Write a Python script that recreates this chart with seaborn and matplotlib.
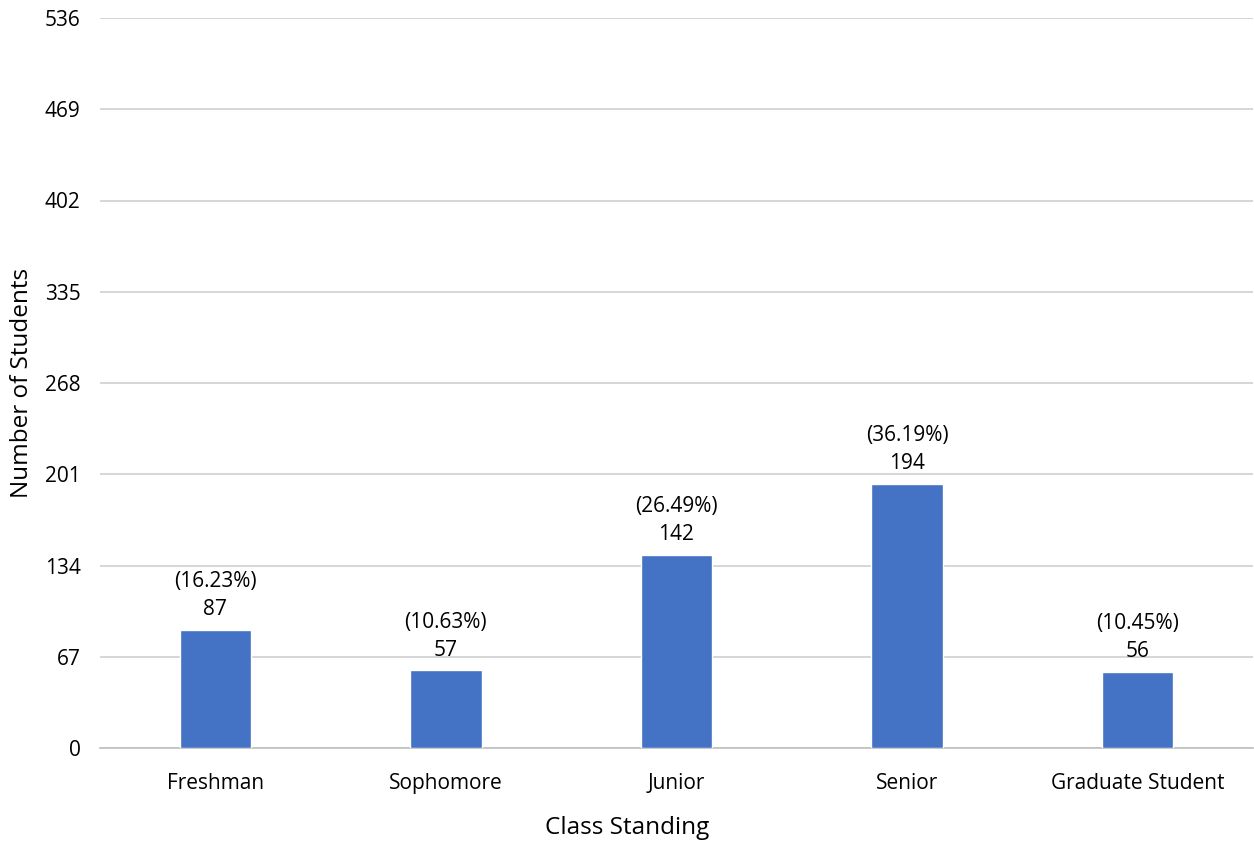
import matplotlib
matplotlib.use("Agg")
import matplotlib.pyplot as plt
import seaborn as sns
import pandas as pd

categories = ["Freshman", "Sophomore", "Junior", "Senior", "Graduate Student"]
counts = [87, 57, 142, 194, 56]
percents = ["(16.23%)", "(10.63%)", "(26.49%)", "(36.19%)", "(10.45%)"]
yticks = [0, 67, 134, 201, 268, 335, 402, 469, 536]

sns.set_theme(style="white")
plt.rcParams["font.family"] = ["Open Sans", "DejaVu Sans"]
plt.rcParams["text.color"] = "black"
plt.rcParams["axes.labelcolor"] = "black"

df = pd.DataFrame({"Class Standing": categories, "Number of Students": counts})

fig = plt.figure(figsize=(12.54, 8.42), dpi=100)
ax = fig.add_axes([100 / 1254, 1 - 748 / 842, 1153 / 1254, 730 / 842])

sns.barplot(data=df, x="Class Standing", y="Number of Students",
            color="#4472C4", saturation=1, width=0.31, ax=ax, zorder=3)

ax.set_ylim(0, 536)
ax.set_xlim(-0.5, 4.5)
ax.set_yticks(yticks)
ax.set_yticklabels([str(v) for v in yticks])
ax.yaxis.grid(True, color="#D0D0D0", linewidth=1.2, zorder=0)
ax.tick_params(axis="both", length=0, labelsize=15, colors="black")
ax.tick_params(axis="y", pad=14)
ax.tick_params(axis="x", pad=18)
for s in ["top", "right", "left"]:
    ax.spines[s].set_visible(False)
ax.spines["bottom"].set_color("#BFBFBF")
ax.spines["bottom"].set_linewidth(1.2)

for i, (c, p) in enumerate(zip(counts, percents)):
    ax.annotate(str(c), (i, c), xytext=(0, 7), textcoords="offset points",
                ha="center", va="bottom", fontsize=15)
    ax.annotate(p, (i, c), xytext=(0, 27), textcoords="offset points",
                ha="center", va="bottom", fontsize=15)

ax.set_xlabel("Class Standing", fontsize=17.5, labelpad=16)
ax.set_ylabel("Number of Students", fontsize=17.5, labelpad=8)
# centre the x-axis title on the figure rather than the plotting area
ax.xaxis.label.set_x((627 - 100) / 1153)

fig.savefig("out.png", dpi=100)
